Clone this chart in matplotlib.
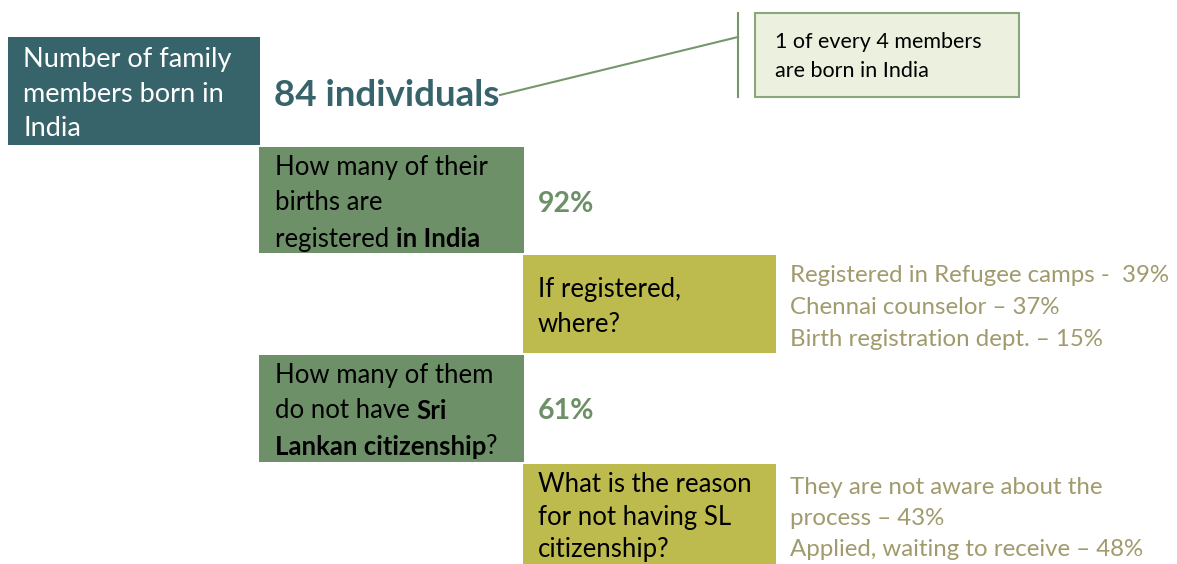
import matplotlib
matplotlib.use("Agg")
import matplotlib.pyplot as plt
from matplotlib.patches import Rectangle

# data
born_in_india = 84
callout_lines = ["1 of every 4 members", "are born in India"]
pct_registered = 92
pct_no_citizenship = 61
where_registered = [("Registered in Refugee camps -  ", 39),
                    ("Chennai counselor \u2013 ", 37),
                    ("Birth registration dept. \u2013 ", 15)]
reasons = ["They are not aware about the", "process \u2013 43%",
           "Applied, waiting to receive \u2013 48%"]

TEAL = "#37636a"
GREEN = "#6e9068"
OLIVE = "#bdbb4e"
KHAKI = "#a09a6c"
FONT = "Lato"
DY = 2  # small nudge down for all text

fig = plt.figure(figsize=(11.77, 5.64), dpi=100)
ax = fig.add_axes([0, 0, 1, 1])
ax.set_xlim(0, 1177)
ax.set_ylim(564, 0)
ax.axis("off")
renderer = fig.canvas.get_renderer()


def box(x0, y0, x1, y1, color, **kw):
    ax.add_patch(Rectangle((x0, y0), x1 - x0, y1 - y0, facecolor=color, **kw))


def rich_line(x, y, parts, size, color="black"):
    # parts: list of (text, weight)
    for txt, w in parts:
        t = ax.text(x, y + DY, txt, fontsize=size, color=color, fontweight=w,
                    family=FONT, va="center", ha="left")
        bb = t.get_window_extent(renderer)
        x += bb.width


# boxes
box(8, 37, 260, 145, TEAL)
box(259, 147, 524, 253, GREEN)
box(523, 255, 776, 353, OLIVE)
box(259, 355, 524, 462, GREEN)
box(523, 464, 776, 570, OLIVE)

# first box text
for i, s in enumerate(["Number of family", "members born in", "India"]):
    ax.text(23, 57 + 35 * i + DY, s, fontsize=19.5, color="white", family=FONT,
            va="center")

ax.text(274, 93 + DY, f"{born_in_india} individuals", fontsize=26.5, color=TEAL,
        family=FONT, fontweight="bold", va="center")

# callout
ax.plot([500, 738], [95, 37], color="#77976a", lw=1.5)
ax.plot([738, 738], [13, 97], color="#77976a", lw=1.5)
box(755, 13, 1019, 97, "#ebf1de", edgecolor="#8aa67c", lw=1.5)
for i, s in enumerate(callout_lines):
    ax.text(775, 40 + 29 * i + DY, s, fontsize=15.5, color="black", family=FONT,
            va="center")

# question 1
rich_line(275, 165, [("How many of their", "normal")], 18.5)
rich_line(275, 201, [("births are", "normal")], 18.5)
rich_line(275, 237, [("registered ", "normal"), ("in India", "bold")], 18.5)
ax.text(538, 202 + DY, f"{pct_registered}%", fontsize=20.5, color=GREEN,
        family=FONT, fontweight="bold", va="center")

# where registered
rich_line(538, 287, [("If registered,", "normal")], 18.5)
rich_line(538, 323, [("where?", "normal")], 18.5)
for i, (lab, v) in enumerate(where_registered):
    ax.text(790, 273 + 32.5 * i + DY, f"{lab}{v}%", fontsize=17.3, color=KHAKI,
            family=FONT, va="center")

# question 2
rich_line(275, 373, [("How many of them", "normal")], 18.5)
rich_line(275, 409, [("do not have ", "normal"), ("Sri", "bold")], 18.5)
rich_line(275, 445, [("Lankan citizenship", "bold"), ("?", "normal")], 18.5)
ax.text(538, 409 + DY, f"{pct_no_citizenship}%", fontsize=20.5, color=GREEN,
        family=FONT, fontweight="bold", va="center")

# reasons
rich_line(538, 482, [("What is the reason", "normal")], 18.5)
rich_line(538, 516, [("for not having SL", "normal")], 18.5)
rich_line(538, 547, [("citizenship?", "normal")], 18.5)
for i, s in enumerate(reasons):
    ax.text(790, 485 + 31.5 * i + DY, s, fontsize=17.3, color=KHAKI, family=FONT,
            va="center")

fig.savefig("out.png", dpi=100)
